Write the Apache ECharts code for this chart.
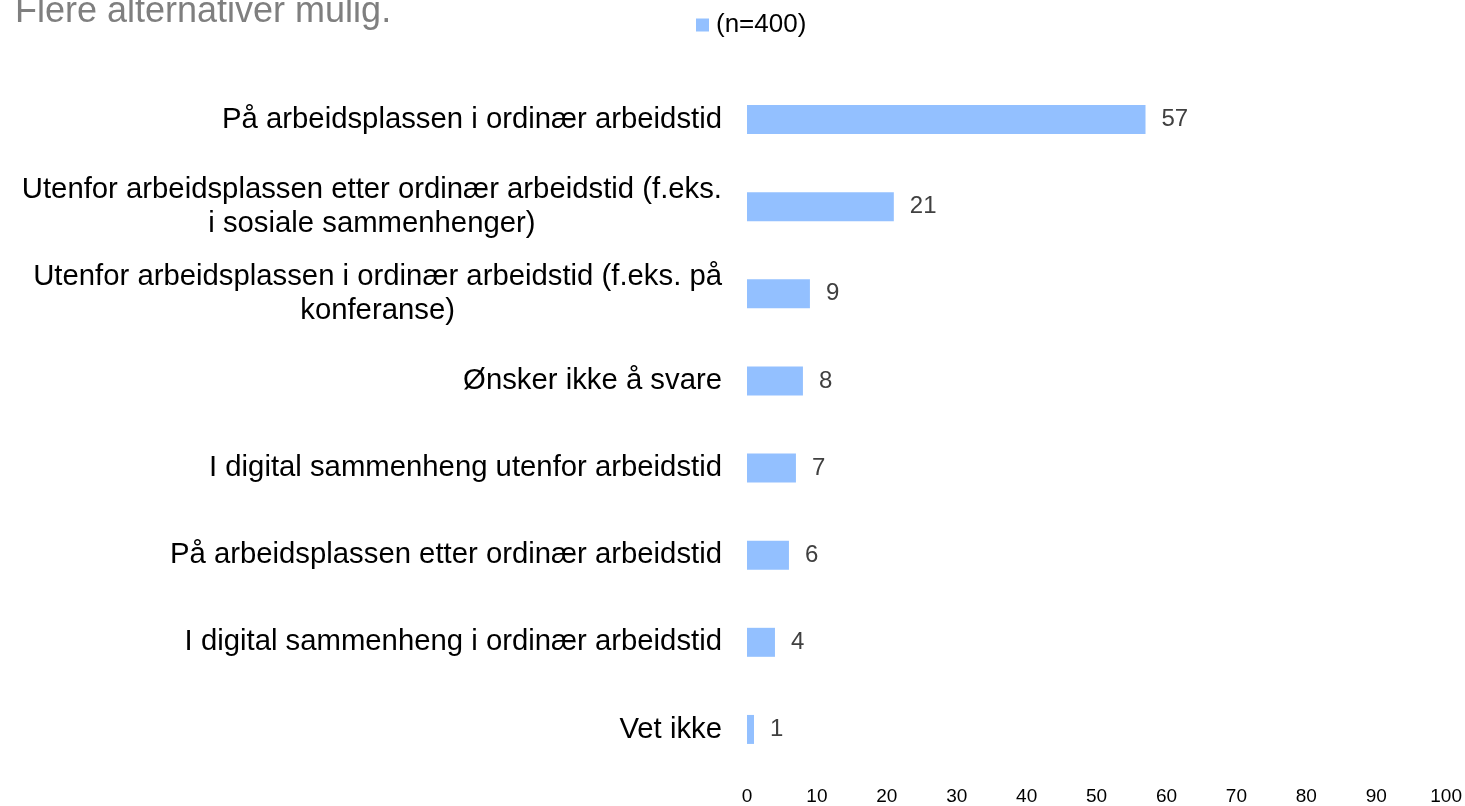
<!DOCTYPE html>
<html>
<head>
<meta charset="utf-8">
<script src="https://cdn.jsdelivr.net/npm/echarts@6/dist/echarts.min.js"></script>
<style>
html,body{margin:0;padding:0;background:#fff;}
#chart{width:1465px;height:806px;}
</style>
</head>
<body>
<div id="chart"></div>
<script>
const titleText = 'Flere alternativer mulig.';
const seriesName = '(n=400)';
const categories = [
  'På arbeidsplassen i ordinær arbeidstid',
  'Utenfor arbeidsplassen etter ordinær arbeidstid (f.eks.\ni sosiale sammenhenger)',
  'Utenfor arbeidsplassen i ordinær arbeidstid (f.eks. på\nkonferanse)',
  'Ønsker ikke å svare',
  'I digital sammenheng utenfor arbeidstid',
  'På arbeidsplassen etter ordinær arbeidstid',
  'I digital sammenheng i ordinær arbeidstid',
  'Vet ikke'
];
const values = [57, 21, 9, 8, 7, 6, 4, 1];
const axisMin = 0;
const axisMax = 100;
const axisStep = 10;

const font = 'Liberation Sans, Arial, sans-serif';
const chart = echarts.init(document.getElementById('chart'));
chart.setOption({
  animation: false,
  backgroundColor: '#fff',
  title: {
    text: titleText,
    left: 15,
    top: -6,
    padding: 0,
    textStyle: {fontFamily: font, fontSize: 36, fontWeight: 'normal', color: '#7f7f7f'}
  },
  legend: {
    data: [seriesName],
    left: 696,
    top: 12,
    padding: 0,
    itemWidth: 13,
    itemHeight: 13,
    itemGap: 7,
    icon: 'rect',
    textStyle: {fontFamily: font, fontSize: 26, color: '#000', padding: [0, 0, 0, 2]}
  },
  grid: {left: 747, right: 18, top: 76, bottom: 33, containLabel: false},
  xAxis: {
    type: 'value',
    min: axisMin,
    max: axisMax,
    interval: axisStep,
    axisLine: {show: false},
    axisTick: {show: false},
    splitLine: {show: false},
    axisLabel: {fontFamily: font, fontSize: 19, color: '#000', margin: 14}
  },
  yAxis: {
    type: 'category',
    inverse: true,
    data: categories,
    axisLine: {show: false},
    axisTick: {show: false},
    axisLabel: {
      interval: 0,
      margin: 25,
      formatter: function (v) {
        return v.split('\n').map(function (l) { return '{c|' + l + '}'; }).join('\n');
      },
      rich: {
        c: {fontFamily: font, fontSize: 29.3, lineHeight: 34, color: '#000', align: 'center'}
      }
    }
  },
  series: [{
    name: seriesName,
    type: 'bar',
    data: values,
    barWidth: 29,
    itemStyle: {color: '#93C0FF'},
    label: {
      show: true,
      position: 'right',
      distance: 16,
      fontFamily: font,
      fontSize: 24,
      color: '#404040'
    }
  }]
});
</script>
</body>
</html>
